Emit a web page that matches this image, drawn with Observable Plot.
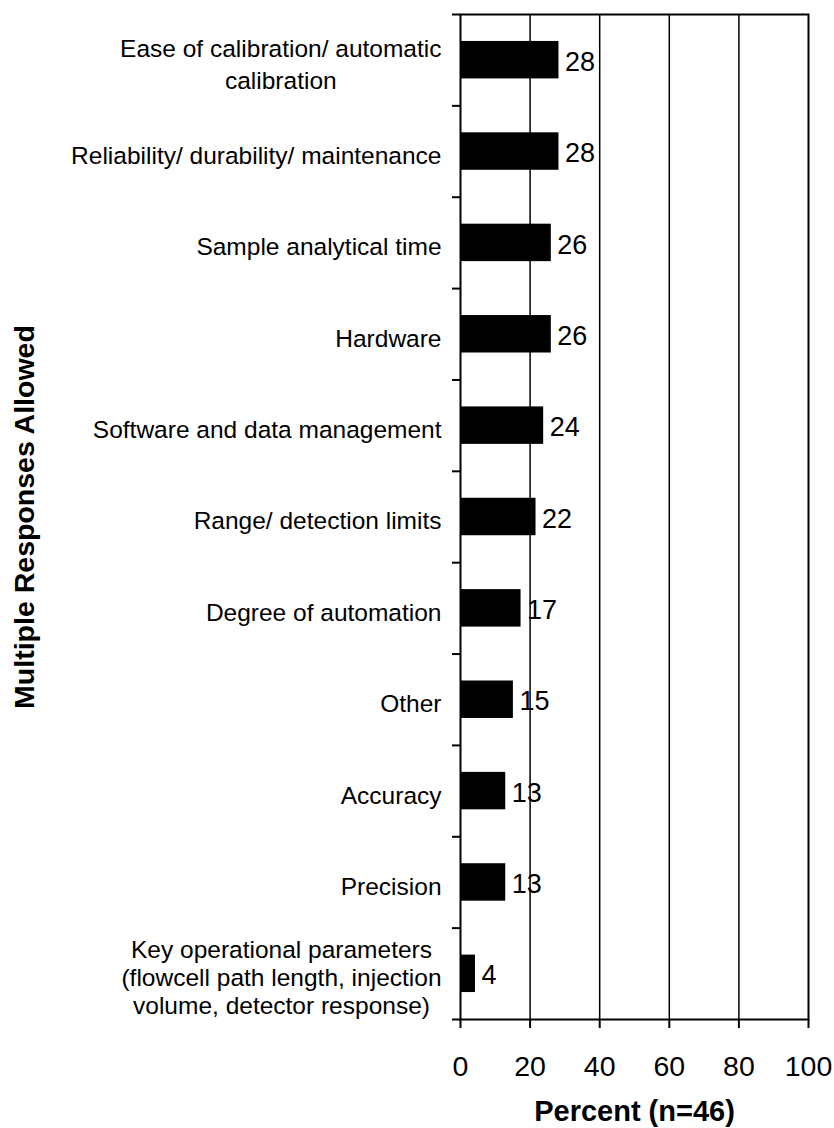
<!DOCTYPE html>
<html>
<head>
<meta charset="utf-8">
<script src="https://cdn.jsdelivr.net/npm/d3@7"></script>
<script src="https://cdn.jsdelivr.net/npm/@observablehq/plot@0.6"></script>
<style>
  html, body { margin: 0; padding: 0; background: #fff; }
  #chart { width: 834px; height: 1128px; }
</style>
</head>
<body>
<div id="chart"></div>
<script>
const categories = [
  "Ease of calibration/ automatic\ncalibration",
  "Reliability/ durability/ maintenance",
  "Sample analytical time",
  "Hardware",
  "Software and data management",
  "Range/ detection limits",
  "Degree of automation",
  "Other",
  "Accuracy",
  "Precision",
  "Key operational parameters\n(flowcell path length, injection\nvolume, detector response)"
];
const values = [28.3, 28.3, 26.1, 26.1, 23.9, 21.7, 17.4, 15.2, 13.0, 13.0, 4.3];
const xTicks = [0, 20, 40, 60, 80, 100];
const gridValues = [20, 40, 60, 80];
const xLabel = "Percent (n=46)";
const yLabel = "Multiple Responses Allowed";

const FONT = "'Liberation Sans', Arial, Helvetica, sans-serif";
const catSize = 24.5;

const data = categories.map((c, i) => ({category: c, value: values[i], index: i}));

const canvas = document.createElement("canvas");
const ctx = canvas.getContext("2d");
ctx.font = `${catSize}px 'Liberation Sans', Arial, sans-serif`;

const labelMarks = categories.map((c, i) => {
  const lines = c.split("\n");
  const w = Math.max(...lines.map(l => ctx.measureText(l).width));
  return Plot.text([i], {
    y: d => d + 0.5,
    text: () => c,
    frameAnchor: "left",
    dx: -(19 + w / 2),
    dy: 3,
    textAnchor: "middle",
    lineAnchor: "middle",
    lineHeight: lines.length === 2 ? 1.3 : lines.length === 3 ? 1.16 : 1.2,
    fontSize: catSize,
    fill: "#000"
  });
});

const chart = Plot.plot({
  width: 834,
  height: 1128,
  marginTop: 14,
  marginRight: 26,
  marginBottom: 109,
  marginLeft: 460,
  style: {fontFamily: FONT, background: "#fff", color: "#000"},
  x: {domain: [0, 100], label: null},
  y: {domain: [0, categories.length], reverse: true, label: null},
  marks: [
    Plot.ruleX(gridValues, {stroke: "#000", strokeWidth: 1.5}),
    Plot.rectX(data, {
      x1: 0,
      x2: "value",
      y1: d => d.index + 0.295,
      y2: d => d.index + 0.705,
      fill: "#000"
    }),
    Plot.text(data, {
      x: "value",
      y: d => d.index + 0.5,
      text: d => d3.format(".0f")(d.value),
      dx: 6,
      dy: 2,
      textAnchor: "start",
      lineAnchor: "middle",
      fontSize: 27,
      fill: "#000"
    }),
    Plot.frame({stroke: "#000", strokeWidth: 2}),
    Plot.axisX({
      ticks: xTicks,
      tickFormat: d => String(d),
      tickSize: 9,
      tickPadding: 27,
      fontSize: 28.5,
      strokeWidth: 2,
      stroke: "#000",
      fill: "#000",
      label: null
    }),
    Plot.axisY({
      ticks: d3.range(0, categories.length + 1),
      tickFormat: () => "",
      tickSize: 8,
      strokeWidth: 2,
      stroke: "#000",
      label: null
    }),
    ...labelMarks,
    Plot.text([xLabel], {
      text: d => d,
      frameAnchor: "bottom",
      dy: 92,
      lineAnchor: "middle",
      textAnchor: "middle",
      fontWeight: "bold",
      fontSize: 29,
      fill: "#000"
    }),
    Plot.text([yLabel], {
      text: d => d,
      frameAnchor: "left",
      dx: -435.6,
      rotate: -90,
      lineAnchor: "middle",
      textAnchor: "middle",
      fontWeight: "bold",
      fontSize: 28.5,
      fill: "#000"
    })
  ]
});

document.getElementById("chart").appendChild(chart);
</script>
</body>
</html>
